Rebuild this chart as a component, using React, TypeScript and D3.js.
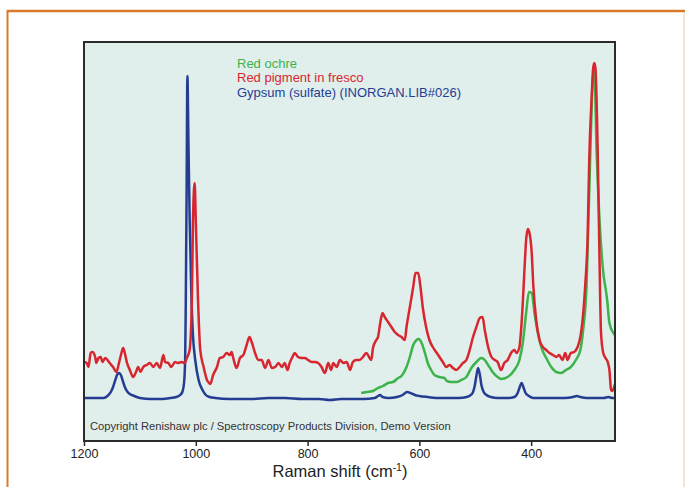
import React, { useRef, useEffect } from 'react';
import * as d3 from 'd3';

// Raman shift (cm-1), intensity (arb. units, gypsum baseline = 0)
const redPigment: [number, number][] = [
  [1200, 36], [1195, 35], [1192, 31], [1188, 45], [1185, 46], [1180, 41], [1178, 35], [1174, 40],
  [1170, 41], [1167, 36], [1162, 40], [1158, 38], [1154, 35], [1148, 31], [1142, 26], [1137, 36],
  [1133, 45], [1130, 50], [1127, 45], [1123, 35], [1118, 28], [1112, 21], [1107, 26], [1103, 31],
  [1099, 26], [1094, 31], [1088, 33], [1082, 35], [1076, 31], [1070, 35], [1064, 30], [1058, 43],
  [1055, 36], [1049, 35], [1044, 31], [1037, 36], [1032, 35], [1026, 36], [1020, 35], [1016, 40],
  [1011, 48], [1007, 98], [1005, 178], [1002, 215], [1000, 178], [996, 98], [992, 48], [986, 31],
  [980, 18], [976, 15], [974, 14], [969, 23], [962, 31], [957, 40], [951, 41], [945, 45],
  [939, 43], [936, 46], [933, 40], [927, 30], [921, 40], [915, 43], [909, 53], [904, 61],
  [900, 56], [894, 45], [888, 38], [882, 38], [876, 30], [870, 38], [864, 30], [858, 31],
  [852, 35], [846, 31], [841, 35], [836, 28], [832, 35], [827, 41], [823, 45], [817, 41],
  [811, 40], [805, 40], [799, 38], [793, 36], [787, 36], [781, 35], [775, 31], [769, 25],
  [763, 35], [758, 28], [754, 35], [748, 31], [742, 38], [736, 35], [730, 36], [724, 28],
  [719, 36], [713, 38], [707, 38], [701, 41], [695, 45], [689, 40], [686, 38], [683, 50],
  [677, 58], [674, 61], [670, 75], [666, 85], [662, 81], [656, 76], [650, 71], [644, 66],
  [638, 63], [632, 61], [626, 58], [623, 71], [617, 91], [611, 111], [607, 125], [602, 125],
  [598, 111], [594, 91], [588, 71], [582, 58], [576, 51], [570, 46], [564, 41], [558, 36],
  [552, 31], [546, 33], [540, 30], [534, 28], [528, 31], [522, 35], [516, 38], [510, 48],
  [504, 61], [498, 71], [492, 80], [487, 81], [483, 68], [477, 51], [471, 41], [465, 38],
  [460, 36], [454, 28], [448, 35], [442, 38], [436, 45], [430, 48], [426, 45], [421, 51],
  [418, 68], [415, 95], [412, 128], [409, 158], [406, 169], [403, 165], [399, 145], [396, 111],
  [391, 78], [385, 58], [379, 51], [373, 48], [367, 45], [361, 43], [355, 41], [350, 43],
  [344, 38], [339, 45], [335, 38], [329, 45], [323, 46], [317, 51], [312, 61], [308, 78],
  [303, 115], [299, 160], [296, 240], [292, 298], [289, 330], [287, 335], [285, 330], [281, 248],
  [278, 148], [275, 65], [271, 45], [267, 40], [263, 36], [260, 28], [257, 8], [255, 7], [250, 14],
];

const redOchre: [number, number][] = [
  [704, 5], [695, 6], [683, 7], [674, 10], [665, 12], [656, 15], [647, 16], [638, 20],
  [632, 22], [623, 31], [617, 41], [611, 53], [605, 58], [601, 59], [596, 55], [590, 45],
  [585, 35], [579, 28], [573, 23], [564, 21], [555, 20], [551, 17], [543, 16], [534, 16],
  [525, 18], [516, 21], [507, 30], [498, 36], [489, 40], [483, 38], [477, 33], [469, 26],
  [460, 21], [454, 19], [442, 21], [430, 28], [421, 38], [415, 55], [409, 85], [404, 106],
  [399, 105], [394, 85], [388, 65], [382, 51], [373, 40], [364, 31], [355, 26], [346, 25],
  [338, 28], [329, 31], [320, 38], [312, 48], [307, 68], [301, 111], [299, 148], [294, 248],
  [290, 315], [287, 328], [283, 248], [278, 181], [272, 131], [264, 98], [260, 75], [253, 65],
  [250, 63],
];

const gypsum: [number, number][] = [
  [1200, 0], [1180, 0], [1165, 0], [1158, 2], [1152, 6], [1148, 11], [1144, 18], [1140, 24],
  [1137, 25], [1134, 23], [1130, 16], [1127, 11], [1122, 6], [1118, 4], [1110, 2], [1100, 0],
  [1080, -1], [1060, -1], [1045, 0], [1035, 1], [1028, 3], [1024, 6], [1021, 15], [1019, 40],
  [1018, 90], [1016.5, 200], [1015, 322], [1013, 250], [1011, 180], [1008, 105], [1005, 62],
  [1001, 38], [995, 18], [988, 8], [982, 3], [975, 1], [965, 0], [940, -1], [900, -1],
  [870, 0], [840, 0], [810, -1], [780, -1], [760, -2], [740, -1], [700, -1], [680, 0],
  [674, 2], [670, 3], [666, 1], [655, 0], [640, 1], [630, 3], [622, 6], [616, 5],
  [608, 3], [600, 2], [585, 1], [560, 0], [530, 0], [515, 1], [506, 4], [501, 12],
  [498, 22], [495, 30], [492, 24], [489, 13], [485, 6], [480, 3], [472, 1], [460, 0],
  [440, 0], [430, 1], [425, 4], [421, 10], [417, 15], [414, 11], [410, 5], [404, 2],
  [396, 0], [340, 0], [325, 1], [318, 2], [312, 1], [300, 0], [270, 0], [262, 1],
  [255, 0], [250, 0],
];

const xTicks = [1200, 1000, 800, 600, 400];
const legendLabels = ['Red ochre', 'Red pigment in fresco', 'Gypsum (sulfate) (INORGAN.LIB#026)'];
const legendColors = ['#3db34a', '#d8262f', '#243d93'];

const W = 685;
const H = 487;
const plot = { left: 84, right: 615, top: 42, bottom: 441 };

function App() {
  const ref = useRef<SVGSVGElement>(null);

  useEffect(() => {
    const svg = d3.select(ref.current);
    svg.selectAll('*').remove();

    const x = d3.scaleLinear().domain([1200, 250]).range([plot.left, plot.right]);
    const y = d3.scaleLinear().domain([-43, 356]).range([plot.bottom, plot.top]);

    svg.append('rect').attr('width', W).attr('height', H).attr('fill', '#fff');

    // page frame
    svg.append('line').attr('x1', 7).attr('y1', 11).attr('x2', W).attr('y2', 11)
      .attr('stroke', '#d97a2b').attr('stroke-width', 2.5);
    svg.append('line').attr('x1', 7.5).attr('y1', 10).attr('x2', 7.5).attr('y2', H)
      .attr('stroke', '#d97a2b').attr('stroke-width', 2);
    svg.append('line').attr('x1', 684).attr('y1', 12).attr('x2', 684).attr('y2', H)
      .attr('stroke', '#f3dcc3').attr('stroke-width', 1.5);

    svg.append('rect')
      .attr('x', plot.left).attr('y', plot.top)
      .attr('width', plot.right - plot.left).attr('height', plot.bottom - plot.top)
      .attr('fill', '#e0eeec');

    const clip = svg.append('clipPath').attr('id', 'plotclip');
    clip.append('rect')
      .attr('x', plot.left).attr('y', plot.top)
      .attr('width', plot.right - plot.left).attr('height', plot.bottom - plot.top);

    const line = d3.line<[number, number]>()
      .x(d => x(d[0]))
      .y(d => y(d[1]))
      .curve(d3.curveMonotoneX);

    const g = svg.append('g').attr('clip-path', 'url(#plotclip)');
    const series: [[number, number][], string][] = [
      [gypsum, legendColors[2]],
      [redOchre, legendColors[0]],
      [redPigment, legendColors[1]],
    ];
    series.forEach(([data, color]) => {
      g.append('path')
        .attr('d', line(data))
        .attr('fill', 'none')
        .attr('stroke', color)
        .attr('stroke-width', 2.5)
        .attr('stroke-linejoin', 'round');
    });

    // frame of the plot
    svg.append('rect')
      .attr('x', plot.left).attr('y', plot.top)
      .attr('width', plot.right - plot.left).attr('height', plot.bottom - plot.top)
      .attr('fill', 'none').attr('stroke', '#2b2b2b').attr('stroke-width', 2);

    // x axis
    const axis = svg.append('g')
      .attr('transform', `translate(0,${plot.bottom})`)
      .call(d3.axisBottom(x).tickValues(xTicks).tickSize(5).tickPadding(3).tickFormat(d3.format('d')));
    axis.select('.domain').remove();
    axis.selectAll('line').attr('stroke', '#2b2b2b').attr('stroke-width', 1.5);
    axis.selectAll('text')
      .attr('font-family', 'Liberation Sans, Arial, sans-serif')
      .attr('font-size', 12.5)
      .attr('fill', '#222');

    const title = svg.append('text')
      .attr('x', 340).attr('y', 477)
      .attr('text-anchor', 'middle')
      .attr('font-family', 'Liberation Sans, Arial, sans-serif')
      .attr('font-size', 16.5)
      .attr('fill', '#222');
    title.append('tspan').text('Raman shift (cm');
    title.append('tspan').attr('font-size', 10.5).attr('dy', -6).text('-1');
    title.append('tspan').attr('dy', 6).text(')');

    svg.append('text')
      .attr('x', 90).attr('y', 430)
      .attr('font-family', 'Liberation Sans, Arial, sans-serif')
      .attr('font-size', 11.2)
      .attr('fill', '#333')
      .text('Copyright Renishaw plc / Spectroscopy Products Division, Demo Version');

    svg.selectAll('text.legend')
      .data(legendLabels)
      .enter()
      .append('text')
      .attr('class', 'legend')
      .attr('x', 237)
      .attr('y', (d, i) => 67.5 + i * 14.7)
      .attr('font-family', 'Liberation Sans, Arial, sans-serif')
      .attr('font-size', 13)
      .attr('fill', (d, i) => legendColors[i])
      .text(d => d);
  }, []);

  return (
    <svg ref={ref} width={W} height={H}
      style={{ position: 'absolute', left: 0, top: 0, display: 'block' }} />
  );
}

export default App;
